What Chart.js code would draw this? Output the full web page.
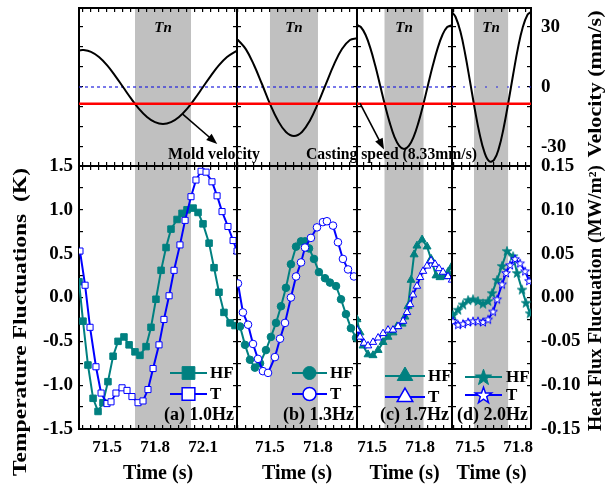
<!DOCTYPE html>
<html><head><meta charset="utf-8">
<script src="https://cdn.jsdelivr.net/npm/chart.js@4/dist/chart.umd.min.js"></script>
<style>
html,body{margin:0;padding:0;background:#fff;}
#wrap{position:relative;width:605px;height:491px;overflow:hidden;background:#fff;}
#wrap canvas{position:absolute;left:0;top:0;}
</style></head><body><div id="wrap"></div>
<script>
// ---------------- data ----------------
const panelNames = ['(a) 1.0Hz', '(b) 1.3Hz', '(c) 1.7Hz', '(d) 2.0Hz'];
const timeMin = [71.325, 71.294, 71.406, 71.3875];
const timeMax = [72.3125, 72.044, 72.000, 71.881];
const timeTickLabels = [71.5, 71.8, 72.1];
const tempTickLabels = [1.5, 1.0, 0.5, 0.0, -0.5, -1.0, -1.5];
const hfTickLabels = [0.15, 0.10, 0.05, 0.00, -0.05, -0.10, -0.15];
const velocityTickLabels = [30, 0, -30];
const tnStart = [71.675, 71.500, 71.578, 71.525];
const tnEnd   = [72.025, 71.800, 71.822, 71.738];
const castingSpeed = -8.33;

// mold velocity (mm/s)
const velTimeA = [71.325,71.35,71.40,71.45,71.50,71.55,71.60,71.65,71.70,71.75,71.80,71.85,71.90,71.95,72.00,72.05,72.10,72.15,72.20,72.25,72.30,72.3125];
const velA     = [18.3,18.5,17.6,15.0,10.9,5.7,0.0,-5.7,-10.9,-15.0,-17.6,-18.5,-17.6,-15.0,-10.9,-5.7,0.0,5.7,10.9,15.0,17.6,18.0];
const velTimeB = [71.294,71.30,71.35,71.40,71.45,71.50,71.55,71.60,71.65,71.70,71.75,71.80,71.85,71.90,71.95,72.00,72.044];
const velB     = [23.8,23.5,18.8,11.0,1.5,-8.4,-16.8,-22.5,-24.5,-22.5,-16.7,-8.2,1.6,11.2,19.0,23.5,24.4];
const velTimeC = [71.406,71.43,71.46,71.49,71.52,71.55,71.58,71.61,71.64,71.67,71.70,71.73,71.76,71.79,71.82,71.85,71.88,71.91,71.94,71.97,72.00];
const velC     = [31.0,30.0,26.0,19.3,10.7,1.0,-8.8,-17.7,-24.9,-29.4,-31.0,-29.4,-24.9,-17.8,-8.9,1.0,10.7,19.3,26.0,30.0,30.9];
const velTimeD = [71.3875,71.41,71.44,71.47,71.50,71.53,71.56,71.59,71.62,71.65,71.68,71.71,71.74,71.77,71.80,71.83,71.86,71.881];
const velD     = [37.4,35.0,27.7,16.4,2.8,-11.1,-23.5,-32.6,-37.1,-36.4,-30.7,-20.5,-7.5,6.5,19.7,30.0,36.2,37.5];

// heat flux fluctuation (MW/m2)
const hfTimeA = [71.325,71.350,71.381,71.413,71.444,71.475,71.506,71.538,71.569,71.606,71.638,71.675,71.706,71.744,71.775,71.806,71.838,71.869,71.900,71.938,71.969,72.000,72.038,72.069,72.100,72.138,72.169,72.200,72.231,72.269,72.300];
const hfA     = [0.018,-0.027,-0.077,-0.115,-0.130,-0.120,-0.096,-0.067,-0.050,-0.045,-0.054,-0.062,-0.066,-0.056,-0.034,-0.002,0.031,0.057,0.078,0.089,0.096,0.100,0.102,0.097,0.084,0.062,0.034,0.006,-0.017,-0.029,-0.032];
const hfTimeB = [71.313,71.344,71.375,71.406,71.438,71.475,71.506,71.538,71.569,71.600,71.631,71.663,71.694,71.719,71.744,71.775,71.806,71.844,71.875,71.913,71.944,71.975,72.006,72.038];
const hfB     = [-0.033,-0.054,-0.071,-0.080,-0.075,-0.060,-0.045,-0.029,-0.010,0.011,0.038,0.058,0.064,0.064,0.056,0.044,0.029,0.022,0.017,0.013,-0.002,-0.019,-0.035,-0.046];
const hfTimeC = [71.406,71.425,71.444,71.475,71.506,71.538,71.569,71.600,71.631,71.656,71.688,71.706,71.725,71.744,71.763,71.781,71.813,71.844,71.869,71.900,71.925,71.950,71.975,72.000];
const hfC     = [-0.025,-0.040,-0.055,-0.065,-0.066,-0.060,-0.051,-0.045,-0.040,-0.033,-0.030,-0.022,-0.010,0.020,0.049,0.059,0.066,0.058,0.044,0.025,0.023,0.024,0.029,0.036];
const hfTimeD = [71.394,71.425,71.456,71.488,71.519,71.550,71.581,71.613,71.638,71.669,71.700,71.731,71.769,71.794,71.825,71.850,71.875];
const hfD     = [-0.020,-0.014,-0.008,-0.003,-0.002,-0.004,-0.007,-0.004,0.005,0.020,0.036,0.053,0.047,0.028,0.009,-0.006,-0.018];

// temperature fluctuation (K)
const tTimeA = [71.331,71.363,71.394,71.431,71.463,71.500,71.525,71.556,71.594,71.625,71.656,71.694,71.725,71.756,71.788,71.825,71.856,71.888,71.919,71.956,71.988,72.025,72.056,72.088,72.119,72.156,72.188,72.219,72.256,72.288,72.313];
const tA     = [0.53,0.14,-0.34,-0.79,-1.09,-1.21,-1.19,-1.09,-1.03,-1.06,-1.13,-1.20,-1.18,-1.05,-0.81,-0.54,-0.25,0.02,0.31,0.60,0.88,1.15,1.34,1.44,1.43,1.32,1.16,0.98,0.81,0.65,0.53];
const tTimeB = [71.300,71.331,71.363,71.394,71.425,71.456,71.488,71.531,71.563,71.594,71.631,71.663,71.694,71.719,71.756,71.794,71.831,71.856,71.894,71.925,71.956,71.988,72.025];
const tB     = [0.16,-0.17,-0.31,-0.53,-0.70,-0.84,-0.86,-0.68,-0.47,-0.29,0.00,0.24,0.40,0.57,0.68,0.80,0.86,0.87,0.82,0.63,0.44,0.32,0.24];
const tTimeC = [71.406,71.425,71.450,71.475,71.506,71.538,71.569,71.600,71.631,71.663,71.694,71.719,71.738,71.756,71.781,71.800,71.819,71.844,71.869,71.894,71.919,71.944,71.975,72.000];
const tC     = [-0.37,-0.45,-0.52,-0.55,-0.51,-0.46,-0.41,-0.37,-0.37,-0.33,-0.27,-0.17,-0.08,0.03,0.13,0.23,0.30,0.36,0.42,0.38,0.33,0.29,0.24,0.20];
const tTimeD = [71.394,71.425,71.456,71.488,71.519,71.550,71.581,71.613,71.644,71.669,71.700,71.725,71.750,71.781,71.813,71.844,71.869];
const tD     = [-0.27,-0.31,-0.30,-0.28,-0.27,-0.27,-0.28,-0.25,-0.16,-0.02,0.15,0.28,0.37,0.44,0.39,0.30,0.19];

const velTimes = [velTimeA, velTimeB, velTimeC, velTimeD];
const vels = [velA, velB, velC, velD];
const hfTimes = [hfTimeA, hfTimeB, hfTimeC, hfTimeD];
const hfs = [hfA, hfB, hfC, hfD];
const tTimes = [tTimeA, tTimeB, tTimeC, tTimeD];
const ts = [tA, tB, tC, tD];

// ---------------- layout / style ----------------
const W = 605, H = 491;
const FF = '"Liberation Serif","Times New Roman",serif';
const COL_EDGES = [79, 237, 357, 452, 531];
const ROWS = [[8, 166], [166, 429]];
const TEAL = '#008080', BLUE = '#0000ff';
const markerStyles = ['rect', 'circle', 'triangle', 'star'];

function starPath(ctx, x, y, r) {
  const ri = r * 0.4;
  ctx.beginPath();
  for (let i = 0; i < 10; i++) {
    const a = -Math.PI / 2 + i * Math.PI / 5;
    const rr = (i % 2) ? ri : r;
    ctx.lineTo(x + rr * Math.cos(a), y + r * 0.08 + rr * Math.sin(a));
  }
  ctx.closePath();
}
function starCanvas(r, fill, stroke, lw) {
  const size = Math.ceil(2 * r + 2 * lw + 2);
  const c = document.createElement('canvas'); c.width = size; c.height = size;
  const x = c.getContext('2d');
  starPath(x, size / 2, size / 2, r);
  x.fillStyle = fill; x.fill();
  if (stroke) { x.strokeStyle = stroke; x.lineWidth = lw; x.stroke(); }
  return c;
}
function drawMarker(ctx, style, x, y, r, fill, stroke, lw) {
  ctx.save();
  ctx.beginPath();
  if (style === 'rect') { const s = r * Math.SQRT1_2; ctx.rect(x - s, y - s, 2 * s, 2 * s); }
  else if (style === 'circle') { ctx.arc(x, y, r, 0, Math.PI * 2); }
  else if (style === 'triangle') { for (let k = 0; k < 3; k++) { const a = k * 2 * Math.PI / 3; ctx.lineTo(x + Math.sin(a) * r, y - Math.cos(a) * r); } ctx.closePath(); }
  else { starPath(ctx, x, y, r); }
  ctx.fillStyle = fill; ctx.fill();
  ctx.strokeStyle = stroke; ctx.lineWidth = lw; ctx.stroke();
  ctx.restore();
}
function tickValues(min, max, step) {
  const out = [];
  for (let k = Math.ceil(min / step - 1e-9); k <= Math.floor(max / step + 1e-9); k++) out.push(+(k * step).toFixed(6));
  return out;
}
function pts(xs, ys) { return xs.map((x, i) => ({x: x, y: ys[i]})); }

function makeScale(cfg) {
  const arr = tickValues(cfg.min, cfg.max, cfg.step);
  return {
    type: 'linear', position: cfg.position, min: cfg.min, max: cfg.max, bounds: 'data',
    afterBuildTicks: (s) => { s.ticks = arr.map(v => ({value: v})); },
    afterFit: (s) => {
      if (s.isHorizontal()) s.height = cfg.size; else s.width = cfg.size;
      s.paddingTop = 0; s.paddingBottom = 0; s.paddingLeft = 0; s.paddingRight = 0;
    },
    border: {display: true, color: '#000', width: 2},
    grid: {display: true, drawOnChartArea: false, drawTicks: true, tickLength: -4, tickWidth: 1.2, tickColor: '#000', color: '#000', lineWidth: 1.2},
    ticks: {
      autoSkip: false, maxRotation: 0, minRotation: 0, padding: cfg.padding || 0, color: '#000',
      font: {family: FF, size: cfg.fontSize || 19, weight: 'bold'},
      callback: (v) => {
        if (!cfg.labels) return '';
        const hit = cfg.labels.find(l => Math.abs(l - v) < 1e-6);
        return hit === undefined ? '' : cfg.fmt(hit);
      }
    },
    title: cfg.title ? {display: true, text: cfg.title, color: '#000', font: {family: FF, size: 20, weight: 'bold'}, padding: {top: 0, bottom: 5}} : {display: false}
  };
}

const bandPlugin = {
  id: 'tnBand',
  beforeDraw(chart, args, opts) {
    const {ctx, chartArea: a} = chart; const x = chart.scales.x;
    const x1 = x.getPixelForValue(opts.start), x2 = x.getPixelForValue(opts.end);
    ctx.save(); ctx.fillStyle = '#c0c0c0'; ctx.fillRect(x1, a.top, x2 - x1, a.bottom - a.top); ctx.restore();
  }
};
const legendPlugin = {
  id: 'panelLegend',
  afterDatasetsDraw(chart, args, opts) {
    if (!opts.rows) return;
    const ctx = chart.ctx, a = chart.chartArea;
    opts.rows.forEach(r => {
      const y = a.bottom + r.dy, x1 = a.right + r.dx1, x2 = a.right + r.dx2;
      ctx.save();
      ctx.strokeStyle = r.color; ctx.lineWidth = 2;
      ctx.beginPath(); ctx.moveTo(x1, y); ctx.lineTo(x2, y); ctx.stroke();
      drawMarker(ctx, opts.style, (x1 + x2) / 2, y, opts.radius, r.fill, r.color, r.lw);
      ctx.fillStyle = '#000'; ctx.font = 'bold 17px ' + FF; ctx.textBaseline = 'middle'; ctx.textAlign = 'left';
      ctx.fillText(r.text, a.right + opts.textDx, y + 1);
      ctx.restore();
    });
    ctx.save();
    ctx.fillStyle = '#000'; ctx.font = 'bold 18px ' + FF; ctx.textBaseline = 'middle'; ctx.textAlign = 'right';
    ctx.fillText(opts.name, a.right - 3, a.bottom - 14);
    ctx.restore();
  }
};

const charts = [];
function drawText(ctx, text, x, y, size, o) {
  o = o || {};
  ctx.save();
  ctx.font = (o.italic ? 'italic ' : '') + 'bold ' + size + 'px ' + FF;
  ctx.fillStyle = '#000'; ctx.textBaseline = 'middle'; ctx.textAlign = o.align || 'center';
  ctx.translate(x, y);
  if (o.rot) ctx.rotate(o.rot);
  if (o.len) { const w = ctx.measureText(text).width; ctx.scale(o.len / w, 1); }
  ctx.fillText(text, 0, 0);
  ctx.restore();
}
function drawArrow(ctx, x1, y1, x2, y2) {
  const ang = Math.atan2(y2 - y1, x2 - x1), L = 11, hw = 4.2;
  ctx.save(); ctx.strokeStyle = '#000'; ctx.fillStyle = '#000'; ctx.lineWidth = 1.6;
  ctx.beginPath(); ctx.moveTo(x1, y1); ctx.lineTo(x2 - Math.cos(ang) * L * 0.8, y2 - Math.sin(ang) * L * 0.8); ctx.stroke();
  ctx.beginPath(); ctx.moveTo(x2, y2);
  ctx.lineTo(x2 - Math.cos(ang) * L - Math.sin(ang) * hw, y2 - Math.sin(ang) * L + Math.cos(ang) * hw);
  ctx.lineTo(x2 - Math.cos(ang) * L + Math.sin(ang) * hw, y2 - Math.sin(ang) * L - Math.cos(ang) * hw);
  ctx.closePath(); ctx.fill(); ctx.restore();
}
// arrows in data units: [panel, t1, v1, t2, v2]
const moldArrow = [0, 71.973, -13.6, 72.189, -28.5];
const castArrow = [2, 71.425, -8.2, 71.575, -31.2];

const overlayPlugin = {
  id: 'overlay',
  afterDraw(chart) {
    const ctx = chart.ctx;
    for (let i = 0; i < 4; i++) {
      const c = charts[i]; const xs = c.scales.x;
      const cx = (xs.getPixelForValue(tnStart[i]) + xs.getPixelForValue(tnEnd[i])) / 2;
      drawText(ctx, 'Tn', cx, c.chartArea.top + 20, 15, {italic: true});
    }
    [moldArrow, castArrow].forEach(a => {
      const c = charts[a[0]];
      drawArrow(ctx, c.scales.x.getPixelForValue(a[1]), c.scales.y.getPixelForValue(a[2]),
                     c.scales.x.getPixelForValue(a[3]), c.scales.y.getPixelForValue(a[4]));
    });
    drawText(ctx, 'Mold velocity', 168, 155, 16, {align: 'left', len: 92});
    drawText(ctx, 'Casting speed (8.33mm/s)', 306, 155, 16, {align: 'left', len: 171});
    drawText(ctx, 'Temperature Fluctuations  (K)', 21, 322, 19, {rot: -Math.PI / 2, len: 308});
    drawText(ctx, 'Velocity (mm/s)', 596, 84, 18, {rot: -Math.PI / 2, len: 147});
    drawText(ctx, 'Heat Flux Fluctuation (MW/m\u00B2)', 596, 298, 18, {rot: -Math.PI / 2, len: 266});
  }
};

const wrap = document.getElementById('wrap');
function newCanvas() {
  const c = document.createElement('canvas'); c.width = W; c.height = H;
  c.style.width = W + 'px'; c.style.height = H + 'px';
  wrap.appendChild(c); return c;
}

function buildChart(col, row) {
  const L = COL_EDGES[col], R = COL_EDGES[col + 1];
  const T = ROWS[row][0], B = ROWS[row][1];
  const leftSize = (col === 0 && row === 1) ? L : 0;
  const rightSize = (col === 3) ? W - R : 0;
  const bottomSize = row === 1 ? H - B : 0;
  const padding = {left: L - leftSize, right: W - R - rightSize, top: T, bottom: H - B - bottomSize};
  const scales = {
    x: makeScale({position: 'bottom', min: timeMin[col], max: timeMax[col], step: 0.05, size: bottomSize, padding: 12, fontSize: 17,
                  labels: row === 1 ? timeTickLabels : null, fmt: v => v.toFixed(1), title: row === 1 ? 'Time (s)' : null}),
    xTop: makeScale({position: 'top', min: timeMin[col], max: timeMax[col], step: 0.05, size: 0})
  };
  let datasets;
  if (row === 0) {
    scales.y = makeScale({position: 'left', min: -39.5, max: 39.5, step: 10, size: 0});
    scales.y2 = makeScale({position: 'right', min: -39.5, max: 39.5, step: 10, size: rightSize, padding: 14,
                           labels: col === 3 ? velocityTickLabels : null, fmt: v => String(v)});
    datasets = [
      {data: [{x: timeMin[col], y: castingSpeed}, {x: timeMax[col], y: castingSpeed}], borderColor: '#ff0000', borderWidth: 2.5, pointRadius: 0, yAxisID: 'y', clip: 0},
      {data: pts(velTimes[col], vels[col]), borderColor: '#000', borderWidth: 2, pointRadius: 0, tension: 0.4, yAxisID: 'y', clip: 0},
      {data: [{x: timeMin[col], y: 0}, {x: timeMax[col], y: 0}], borderColor: '#2222dd', borderWidth: 1.2, borderDash: col === 3 ? [2, 9] : [3, 3], pointRadius: 0, yAxisID: 'y', clip: 0}
    ];
  } else {
    scales.y = makeScale({position: 'left', min: -1.5, max: 1.5, step: 0.25, size: leftSize, padding: 10,
                          labels: col === 0 ? tempTickLabels : null, fmt: v => v.toFixed(1)});
    scales.y2 = makeScale({position: 'right', min: -0.15, max: 0.15, step: 0.025, size: rightSize, padding: 14,
                           labels: col === 3 ? hfTickLabels : null, fmt: v => v.toFixed(2)});
    const st = markerStyles[col];
    const hfPoint = st === 'star' ? starCanvas(5, TEAL, TEAL, 0.8) : st;
    const tPoint = st === 'star' ? starCanvas(4.6, '#ffffff', BLUE, 1) : st;
    const rHF = [4.6, 3.8, 4.6, 5][col], rT = [4.3, 3.8, 4.3, 5][col];
    datasets = [
      {data: pts(tTimes[col], ts[col]), borderColor: BLUE, borderWidth: 2, pointStyle: tPoint, pointRadius: rT,
       pointBackgroundColor: '#ffffff', pointBorderColor: BLUE, pointBorderWidth: 1, tension: 0, yAxisID: 'y', clip: 0},
      {data: pts(hfTimes[col], hfs[col]), borderColor: TEAL, borderWidth: 2, pointStyle: hfPoint, pointRadius: rHF,
       pointBackgroundColor: TEAL, pointBorderColor: TEAL, pointBorderWidth: 1, tension: 0, yAxisID: 'y2', clip: 0}
    ];
  }
  const legendGeom = [
    {dx1: -67, dx2: -30, textDx: -27, dy1: -56, dy2: -35, radius: 9},
    {dx1: -65, dx2: -30, textDx: -27, dy1: -56, dy2: -35, radius: 6.5},
    {dx1: -67, dx2: -27, textDx: -24, dy1: -53, dy2: -32, radius: 9},
    {dx1: -66, dx2: -29, textDx: -25, dy1: -52, dy2: -34, radius: 8.5}
  ][col];
  const plugins = {legend: {display: false}, tooltip: {enabled: false},
    tnBand: {start: tnStart[col], end: tnEnd[col]},
    panelLegend: row === 1 ? {
      style: markerStyles[col], radius: legendGeom.radius, textDx: legendGeom.textDx, name: panelNames[col],
      rows: [
        {text: 'HF', color: TEAL, fill: TEAL, lw: 1, dx1: legendGeom.dx1, dx2: legendGeom.dx2, dy: legendGeom.dy1},
        {text: 'T', color: BLUE, fill: '#ffffff', lw: 1.5, dx1: legendGeom.dx1, dx2: legendGeom.dx2, dy: legendGeom.dy2}
      ]} : {}
  };
  const pl = [bandPlugin, legendPlugin];
  if (row === 1 && col === 3) pl.push(overlayPlugin);
  const chart = new Chart(newCanvas(), {
    type: 'line',
    data: {datasets: datasets},
    options: {
      responsive: false, animation: false, devicePixelRatio: 1, events: [],
      layout: {padding: padding, autoPadding: false},
      plugins: plugins, scales: scales
    },
    plugins: pl
  });
  charts.push(chart);
}
for (let c = 0; c < 4; c++) buildChart(c, 0);
for (let c = 0; c < 4; c++) buildChart(c, 1);
</script></body></html>
